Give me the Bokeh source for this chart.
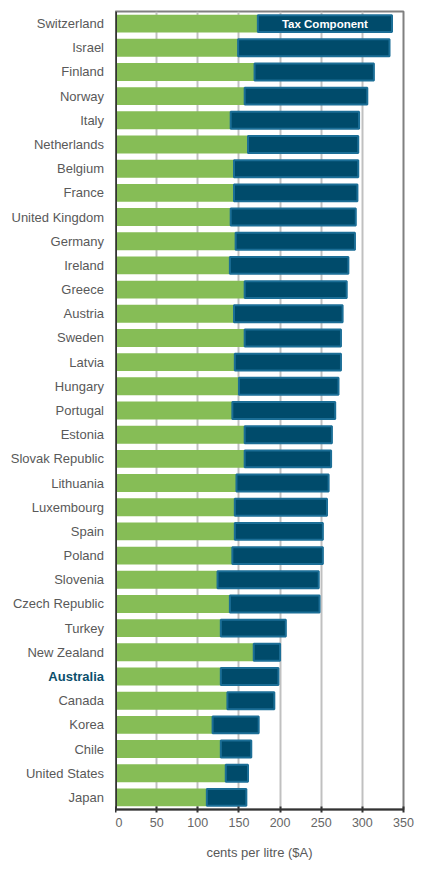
from bokeh.plotting import figure
from bokeh.models import Range1d, FixedTicker, Label, Span, ColumnDataSource
from bokeh.layouts import row
from bokeh.core.properties import value
from bokeh.embed import file_html
from bokeh.resources import INLINE

countries = ["Switzerland", "Israel", "Finland", "Norway", "Italy", "Netherlands",
             "Belgium", "France", "United Kingdom", "Germany", "Ireland", "Greece",
             "Austria", "Sweden", "Latvia", "Hungary", "Portugal", "Estonia",
             "Slovak Republic", "Lithuania", "Luxembourg", "Spain", "Poland",
             "Slovenia", "Czech Republic", "Turkey", "New Zealand", "Australia",
             "Canada", "Korea", "Chile", "United States", "Japan"]
base_price = [173, 149, 169, 157, 140, 161, 144, 144, 140, 146, 139, 157, 144,
              157, 145, 150, 142, 157, 157, 147, 145, 145, 142, 124, 139, 128,
              168, 128, 136, 118, 128, 134, 111]
total_price = [336, 333, 314, 306, 296, 295, 295, 294, 292, 291, 283, 281, 276,
               274, 274, 271, 267, 263, 262, 259, 257, 252, 252, 247, 248, 207,
               200, 198, 193, 174, 165, 161, 159]
x_ticks = [0, 50, 100, 150, 200, 250, 300, 350]
highlight = "Australia"

n = len(countries)
ypos = [n - 1 - i for i in range(n)]
yr = Range1d(-0.5, n - 0.5)
H = 866
TOP = 11
BOT = 57

# label column figure
lab = figure(width=115, height=H, output_backend="svg", toolbar_location=None,
             x_range=Range1d(0, 115), y_range=yr,
             min_border_left=0, min_border_right=0, min_border_top=TOP,
             min_border_bottom=BOT)
lab.axis.visible = False
lab.grid.visible = False
lab.outline_line_color = None
src = ColumnDataSource(dict(
    x=[103.5] * n, y=ypos, text=countries,
    color=["#0b4f6c" if c == highlight else "#595959" for c in countries],
    style=["bold" if c == highlight else "normal" for c in countries]))
lab.text(x="x", y="y", text="text", source=src, text_align="right",
         text_baseline="middle", text_font=value("Liberation Sans"),
         text_font_size="13px", text_color="color", text_font_style="style")

p = figure(width=301, height=H, output_backend="svg", toolbar_location=None,
           x_range=Range1d(0, 350), y_range=yr,
           min_border_left=0, min_border_right=13, min_border_top=TOP,
           min_border_bottom=BOT)
p.background_fill_color = "white"
p.border_fill_color = "white"
p.outline_line_color = "#808080"
p.outline_line_width = 2

p.hbar(y=ypos, left=0, right=base_price, height=0.74,
       fill_color="#86bd56", line_color=None)
p.hbar(y=ypos, left=base_price, right=total_price, height=0.7,
       fill_color="#004b6b", line_color="#1b6e96", line_width=2)

p.xgrid.grid_line_color = "#c0c0c0"
p.xgrid.grid_line_width = 2
p.ygrid.grid_line_color = None

xa = p.xaxis[0]
xa.ticker = FixedTicker(ticks=x_ticks)
xa.minor_tick_line_color = None
xa.major_tick_in = 3
xa.major_tick_out = 3
xa.major_tick_line_color = "#333333"
xa.major_tick_line_width = 2
xa.axis_line_color = "#333333"
xa.axis_line_width = 2
xa.major_label_text_font = "Liberation Sans"
xa.major_label_text_font_size = "12.5px"
xa.major_label_text_color = "#666666"
xa.major_label_standoff = 5
xa.axis_label = "cents per litre ($A)"
xa.axis_label_text_font = "Liberation Sans"
xa.axis_label_text_font_size = "13px"
xa.axis_label_text_font_style = "normal"
xa.axis_label_text_color = "#595959"
xa.axis_label_standoff = 15

p.yaxis.visible = False
p.add_layout(Span(location=0, dimension="height", line_color="#333333",
                  line_width=3))

p.add_layout(Label(x=(base_price[0] + total_price[0]) / 2, y=ypos[0],
                   text="Tax Component", text_align="center",
                   text_baseline="middle", text_font="Liberation Sans",
                   text_font_size="11.5px", text_font_style="bold",
                   text_color="white"))

layout = row(lab, p)
open("out.html", "w").write(file_html(layout, INLINE))
